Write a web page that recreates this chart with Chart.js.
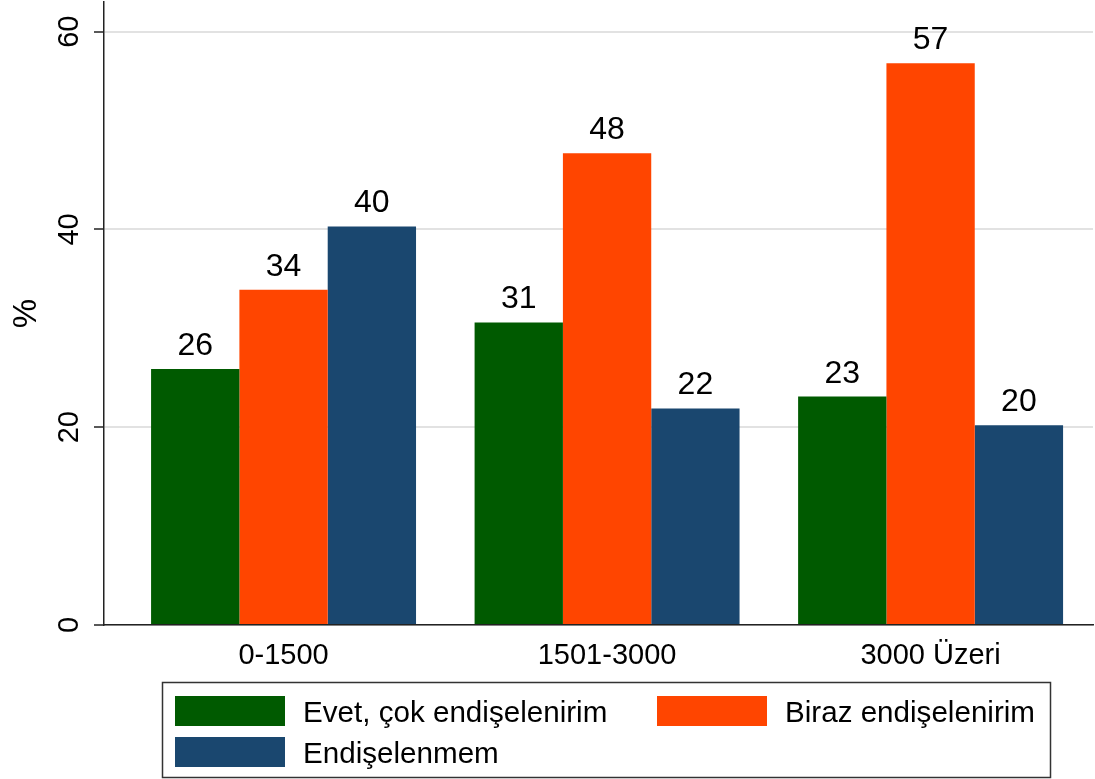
<!DOCTYPE html>
<html>
<head>
<meta charset="utf-8">
<script src="https://cdn.jsdelivr.net/npm/chart.js@4"></script>
<style>
  html, body { margin: 0; padding: 0; background: #fff; }
  #wrap { width: 1095px; height: 779px; position: relative; }
</style>
</head>
<body>
<div id="wrap"><canvas id="mychart"></canvas></div>
<script>
const categories = ['0-1500', '1501-3000', '3000 Üzeri'];
const seriesNames = ['Evet, çok endişelenirim', 'Biraz endişelenirim', 'Endişelenmem'];
const cokEndise = [25.9, 30.6, 23.1];
const birazEndise = [33.9, 47.7, 56.8];
const endiselenmem = [40.3, 21.9, 20.2];
const yTicks = [0, 20, 40, 60];

const colors = ['#005a00', '#ff4500', '#1a476f'];
const FONT = "'Liberation Sans', Arial, sans-serif";

function toPoints(arr) {
  return arr.map((v, i) => ({ x: i, y: v }));
}

// bar value labels, rotated y tick labels and the framed legend
const decorations = {
  id: 'decorations',
  afterDatasetsDraw(chart) {
    const ctx = chart.ctx;
    ctx.save();
    ctx.fillStyle = '#000';
    ctx.font = '32px ' + FONT;
    ctx.textAlign = 'center';
    ctx.textBaseline = 'alphabetic';
    chart.data.datasets.forEach((ds, di) => {
      chart.getDatasetMeta(di).data.forEach((bar, i) => {
        ctx.fillText(Math.round(ds.data[i].y), bar.x, bar.y - 14);
      });
    });
    ctx.restore();
  },
  afterDraw(chart) {
    const ctx = chart.ctx;
    const y = chart.scales.y;
    ctx.save();
    ctx.fillStyle = '#000';
    ctx.font = '29px ' + FONT;
    ctx.textAlign = 'center';
    ctx.textBaseline = 'middle';
    yTicks.forEach(v => {
      ctx.save();
      ctx.translate(70, y.getPixelForValue(v));
      ctx.rotate(-Math.PI / 2);
      ctx.fillText(String(v), 0, 0);
      ctx.restore();
    });

    // legend
    ctx.strokeStyle = '#333';
    ctx.lineWidth = 1.5;
    ctx.strokeRect(162.5, 682.5, 888, 95);
    const slots = [[175, 696], [657, 696], [175, 737]];
    ctx.font = '29.6px ' + FONT;
    ctx.textAlign = 'left';
    ctx.textBaseline = 'alphabetic';
    chart.data.datasets.forEach((ds, i) => {
      const [sx, sy] = slots[i];
      ctx.fillStyle = ds.backgroundColor;
      ctx.fillRect(sx, sy, 110, 30);
      ctx.fillStyle = '#000';
      ctx.fillText(ds.label, sx + 128, sy + 26);
    });
    ctx.restore();
  }
};

const ctx = document.getElementById('mychart').getContext('2d');
const myChart = new Chart(ctx, {
  type: 'bar',
  data: {
    datasets: [
      { label: seriesNames[0], data: toPoints(cokEndise), backgroundColor: colors[0] },
      { label: seriesNames[1], data: toPoints(birazEndise), backgroundColor: colors[1] },
      { label: seriesNames[2], data: toPoints(endiselenmem), backgroundColor: colors[2] }
    ]
  },
  options: {
    responsive: true,
    maintainAspectRatio: false,
    animation: false,
    layout: { padding: { top: 2, right: 2, left: 0, bottom: 0 } },
    datasets: { bar: { categoryPercentage: 0.819, barPercentage: 1.0, borderWidth: 0 } },
    plugins: { legend: { display: false }, tooltip: { enabled: false } },
    scales: {
      x: {
        type: 'linear',
        min: -0.555,
        max: 2.502,
        offset: false,
        grid: { display: false, drawTicks: false },
        border: { display: true, color: '#222', width: 1.5 },
        afterBuildTicks: axis => { axis.ticks = categories.map((c, i) => ({ value: i })); },
        afterFit: axis => { axis.height = 154; },
        ticks: {
          autoSkip: false,
          maxRotation: 0,
          padding: 14,
          color: '#000',
          font: { family: FONT, size: 29 },
          callback: (v, i) => categories[i]
        }
      },
      y: {
        min: 0,
        max: 63,
        afterBuildTicks: axis => { axis.ticks = yTicks.map(v => ({ value: v })); },
        afterFit: axis => { axis.width = 104; },
        grid: { color: '#e2e2e2', lineWidth: 2, tickColor: '#222', tickWidth: 1.5, tickLength: 10 },
        border: { display: true, color: '#222', width: 1.5 },
        ticks: { display: false },
        title: {
          display: true,
          text: '%',
          color: '#000',
          font: { family: FONT, size: 33, lineHeight: 1 },
          padding: { top: 10, bottom: 0 }
        }
      }
    }
  },
  plugins: [decorations]
});
</script>
</body>
</html>
